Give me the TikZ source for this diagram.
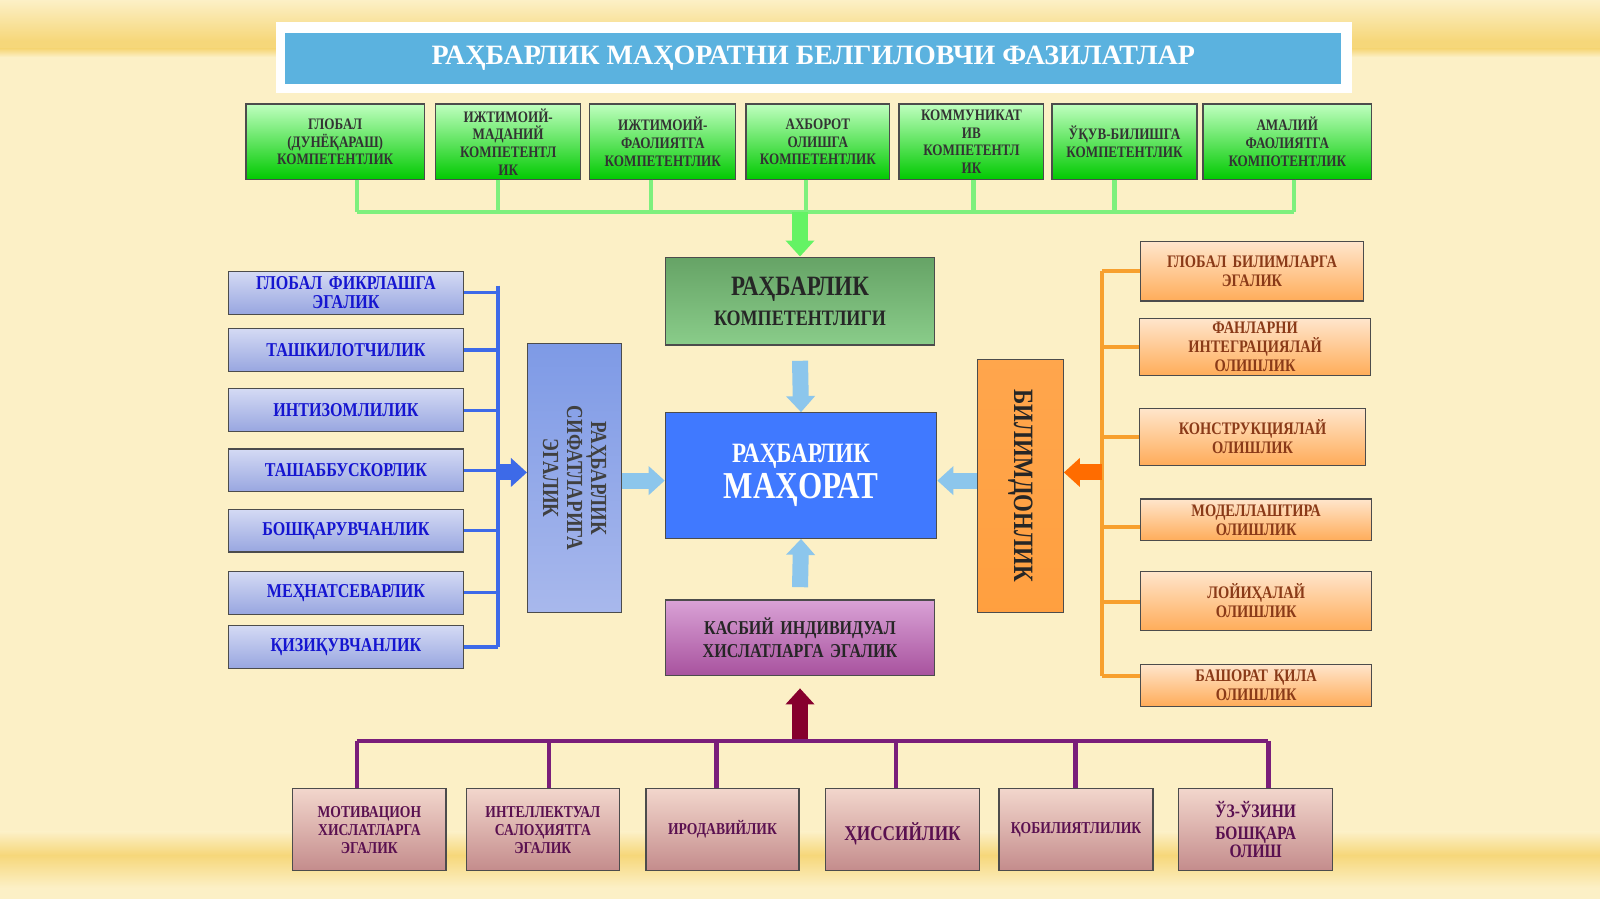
\documentclass[tikz,border=0pt]{standalone}
\usepackage{fontspec}
\setmainfont{Liberation Serif}[FakeStretch=0.82]
\newfontfamily\wideserif{Liberation Serif}
\usetikzlibrary{arrows.meta}
\definecolor{bg}{HTML}{FCF0C6}
\definecolor{band}{HTML}{F6D77A}
\definecolor{titleblue}{HTML}{5BB2DF}
\definecolor{gline}{HTML}{7DF07D}
\definecolor{blueline}{HTML}{3D6AE8}
\definecolor{orline}{HTML}{F7A02E}
\definecolor{purline}{HTML}{7A1E7A}
\definecolor{bluetxt}{HTML}{1515D0}
\definecolor{brtxt}{HTML}{8A3A18}
\definecolor{purtxt}{HTML}{5A1050}
\definecolor{ltop}{HTML}{D4DAF4}
\definecolor{lbot}{HTML}{98A6E0}
\definecolor{btop}{HTML}{F2D6CC}
\definecolor{bbot}{HTML}{C48C8C}
\definecolor{ktop}{HTML}{D9A2D6}
\definecolor{kbot}{HTML}{A8529E}
\definecolor{stop}{HTML}{7E9AE6}
\definecolor{sbot}{HTML}{A8B8EC}
\definecolor{ltblue}{HTML}{8CC6EC}
\tikzset{
 box/.style={draw=black!70, line width=0.6pt, align=center, font=\bfseries, inner sep=1pt},
 gbox/.style={box, top color=green!25!white, bottom color=green!65!black!60!green, text=black!80, font=\bfseries\fontsize{8}{8.8}\selectfont},
 lbox/.style={box, top color=ltop, bottom color=lbot, text=bluetxt, font=\bfseries\fontsize{9.8}{9.5}\selectfont},
 rbox/.style={box, top color=orange!20!white, bottom color=orange!65!white, text=brtxt, font=\bfseries\fontsize{8.8}{9.5}\selectfont},
 bbox/.style={box, top color=btop, bottom color=bbot, text=purtxt, font=\bfseries\fontsize{8.3}{9}\selectfont},
 fat/.style={line width=8pt, -{Triangle[width=14pt,length=8pt]}},
}
\newcommand{\bx}[6]{\node[#1, minimum width=#4*0.5102pt-#2*0.5102pt, minimum height=#5*0.5102pt-#3*0.5102pt, text width=#4*0.5102pt-#2*0.5102pt-4pt] (#6) at ({(#2+#4)/2},{(#3+#5)/2})}
\begin{document}
\begin{tikzpicture}[x=0.5102pt,y=-0.5102pt]
\useasboundingbox (0,0) rectangle (1568,881);
\fill[bg] (0,0) rectangle (1568,881);
\shade[top color=bg, bottom color=band] (0,0) rectangle (1568,40);
\fill[band] (0,40) rectangle (1568,48);
\shade[top color=band, bottom color=bg] (0,48) rectangle (1568,56);
\shade[top color=bg, bottom color=band] (0,815) rectangle (1568,838);
\shade[top color=band, bottom color=bg] (0,838) rectangle (1568,870);
% title
\fill[white] (270,22) rectangle (1325,91);
\node[fill=titleblue, minimum width=1035*0.5102pt, minimum height=50*0.5102pt, text=white, font=\wideserif\bfseries\fontsize{14}{16}\selectfont] (title) at (797,57) {РАҲБАРЛИК МАҲОРАТНИ БЕЛГИЛОВЧИ ФАЗИЛАТЛАР};
% top green
\bx{gbox}{241}{102}{416}{176}{g1} {ГЛОБАЛ\\(ДУНЁҚАРАШ)\\КОМПЕТЕНТЛИК};
\bx{gbox}{427}{102}{569}{176}{g2} {ИЖТИМОИЙ-\\МАДАНИЙ\\КОМПЕТЕНТЛ\\ИК};
\bx{gbox}{578}{102}{721}{176}{g3} {ИЖТИМОИЙ-\\ФАОЛИЯТГА\\КОМПЕТЕНТЛИК};
\bx{gbox}{731}{102}{872}{176}{g4} {АХБОРОТ\\ОЛИШГА\\КОМПЕТЕНТЛИК};
\bx{gbox}{881}{102}{1023}{176}{g5} {КОММУНИКАТ\\ИВ\\КОМПЕТЕНТЛ\\ИК};
\bx{gbox}{1031}{102}{1173}{176}{g6} {ЎҚУВ-БИЛИШГА\\КОМПЕТЕНТЛИК\\[14pt]};
\bx{gbox}{1179}{102}{1344}{176}{g7} {АМАЛИЙ\\ФАОЛИЯТГА\\КОМПОТЕНТЛИК};
\coordinate (gbar) at (784,208);
\foreach \n/\xx in {g1/350,g2/488,g3/638,g4/790,g5/954,g6/1092,g7/1268}
  \draw[gline, line width=2.2pt] (\xx,176) -- (\xx,208);
\draw[gline, line width=2.2pt] (350,208) -- (1268,208);
% center column
\node[box, minimum width=264*0.5102pt, minimum height=86*0.5102pt, top color=green!40!black!60!white, bottom color=green!45!black!40!white!90!green, text=black!85, font=\bfseries\fontsize{14}{17}\selectfont] (comp) at (784,295) {РАҲБАРЛИК\\[-2pt]{\fontsize{11}{13}\selectfont КОМПЕТЕНТЛИГИ}};
\draw[fat, color=gline!80!green] (gbar) -- (comp.north);
\node[box, minimum width=266*0.5102pt, minimum height=123*0.5102pt, fill=blue!70!cyan!75!white, text=white, font=\bfseries\fontsize{14}{17}\selectfont] (mah) at (785,466) {РАҲБАРЛИК\\[1pt]{\fontsize{19}{20}\selectfont МАҲОРАТ}};
\draw[fat, color=ltblue] (comp.south) ++(0,15) coordinate (a1) (a1) -- (mah.north);
\node[box, minimum width=264*0.5102pt, minimum height=74*0.5102pt, top color=ktop, bottom color=kbot, text=black!85, font=\bfseries\fontsize{9.8}{11.5}\selectfont, text width=125pt] (kas) at (784,625) {КАСБИЙ ИНДИВИДУАЛ ХИСЛАТЛАРГА ЭГАЛИК};
\draw[fat, color=ltblue] (kas.north) ++(0,-12) coordinate (a2) (a2) -- (mah.south);
% left
\bx{lbox}{224}{266}{454}{308}{l1} {ГЛОБАЛ ФИКРЛАШГА\\ЭГАЛИК};
\bx{lbox}{224}{322}{454}{364}{l2} {ТАШКИЛОТЧИЛИК};
\bx{lbox}{224}{381}{454}{423}{l3} {ИНТИЗОМЛИЛИК};
\bx{lbox}{224}{440}{454}{482}{l4} {ТАШАББУСКОРЛИК};
\bx{lbox}{224}{499}{454}{541}{l5} {БОШҚАРУВЧАНЛИК};
\bx{lbox}{224}{560}{454}{602}{l6} {МЕҲНАТСЕВАРЛИК};
\bx{lbox}{224}{613}{454}{655}{l7} {ҚИЗИҚУВЧАНЛИК};
\foreach \n in {l1,l2,l3,l4,l5,l6,l7} \draw[blueline, line width=1.6pt] (\n.east) -- (488,0 |- \n.east);
\draw[blueline, line width=1.6pt] (488,280) -- (488,634);
\node[box, minimum width=92*0.5102pt, minimum height=263*0.5102pt, top color=stop, bottom color=sbot] (sif) at (563,468.5) {};
\node[rotate=-90, align=center, text=black!75, font=\bfseries\fontsize{11.5}{12}\selectfont] (siftxt) at (sif.center) {РАҲБАРЛИК\\СИФАТЛАРИГА\\ЭГАЛИК};
\coordinate (lb) at (488,463);
\draw[fat, color=blueline] (lb) -- (sif.west |- lb);
\draw[fat, color=ltblue] (sif.east |- 0,471) -- (mah.west |- 0,471);
% right
\node[box, minimum width=84*0.5102pt, minimum height=248*0.5102pt, top color=orange!70!white, bottom color=orange!75!white] (bil) at (1000,476) {};
\node[rotate=-90, text=black!85, font=\bfseries\fontsize{14}{14}\selectfont] (biltxt) at (bil.center) {БИЛИМДОНЛИК};
\draw[fat, color=ltblue] (bil.west |- 0,471) -- (mah.east |- 0,471);
\bx{rbox}{1118}{237}{1336}{295}{r1} {ГЛОБАЛ БИЛИМЛАРГА\\ЭГАЛИК\\[6pt]};
\bx{rbox}{1117}{312}{1343}{368}{r2} {ФАНЛАРНИ\\ИНТЕГРАЦИЯЛАЙ\\ОЛИШЛИК};
\bx{rbox}{1117}{400}{1338}{456}{r3} {КОНСТРУКЦИЯЛАЙ\\ОЛИШЛИК};
\bx{rbox}{1118}{489}{1344}{530}{r4} {МОДЕЛЛАШТИРА\\ОЛИШЛИК};
\bx{rbox}{1118}{560}{1344}{618}{r5} {ЛОЙИҲАЛАЙ\\ОЛИШЛИК\\[4pt]};
\bx{rbox}{1118}{651}{1344}{692}{r6} {БАШОРАТ  ҚИЛА\\ОЛИШЛИК};
\foreach \n/\yy in {r1/266,r2/340,r3/428,r4/516,r5/590,r6/662} \draw[orline, line width=2pt] (\n.west |- 0,\yy) -- (1080,\yy);
\draw[orline, line width=2pt] (1080,266) -- (1080,662);
\coordinate (rb) at (1080,463);
\draw[fat, color=orange!85!red] (rb) -- (bil.east |- rb);
% bottom
\bx{bbox}{287}{773}{437}{853}{b1} {МОТИВАЦИОН\\ХИСЛАТЛАРГА\\ЭГАЛИК\\[4pt]};
\bx{bbox}{457}{773}{607}{853}{b2} {ИНТЕЛЛЕКТУАЛ\\САЛОҲИЯТГА\\ЭГАЛИК\\[4pt]};
\bx{bbox}{633}{773}{783}{853}{b3} {ИРОДАВИЙЛИК};
\bx{bbox}{809}{773}{960}{853}{b4} {\fontsize{10.5}{11}\selectfont\\[4pt]ҲИССИЙЛИК};
\bx{bbox}{979}{773}{1130}{853}{b5} {ҚОБИЛИЯТЛИЛИК};
\bx{bbox}{1155}{773}{1306}{853}{b6} {\fontsize{9.5}{11}\selectfont ЎЗ-ЎЗИНИ\\БОШҚАРА\\ОЛИШ};
\foreach \n/\xx in {b1/350,b2/538,b3/702,b4/878,b5/1054,b6/1243} \draw[purline, line width=2.2pt] (\xx,726) -- (\xx,0 |- \n.north);
\draw[purline, line width=2.2pt] (350,726) -- (1243,726);
\coordinate (pb) at (784,724);
\draw[fat, color=purple!70!black, shorten >=12*0.5102pt] (pb) -- (kas.south);
\end{tikzpicture}
\end{document}
